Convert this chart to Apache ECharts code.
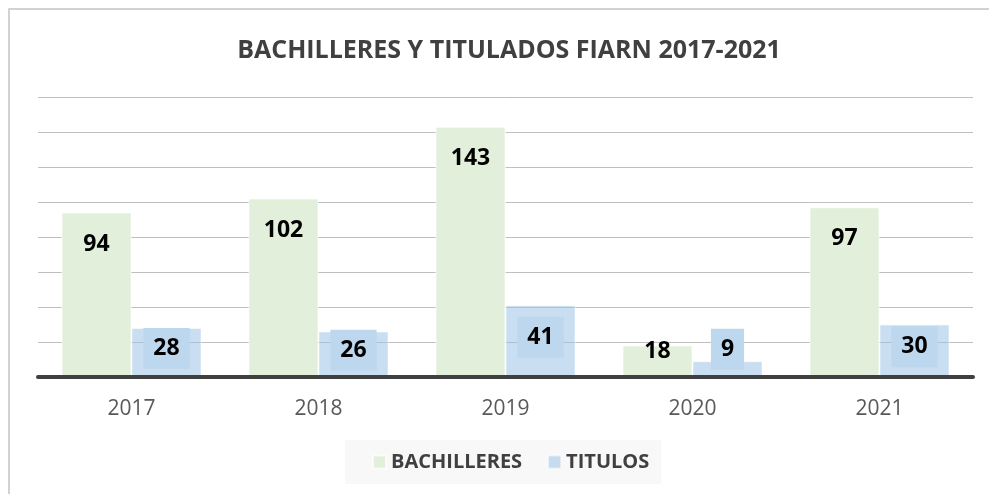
<!DOCTYPE html>
<html>
<head>
<meta charset="utf-8">
<script src="https://cdn.jsdelivr.net/npm/echarts@6/dist/echarts.min.js"></script>
<style>
  html, body { margin: 0; padding: 0; background: #ffffff; }
  #chart { width: 989px; height: 494px; }
</style>
</head>
<body>
<div id="chart"></div>
<script>
const titleText = 'BACHILLERES Y TITULADOS FIARN 2017-2021';
const categories = ['2017', '2018', '2019', '2020', '2021'];
const seriesNames = ['BACHILLERES', 'TITULOS'];
const bachilleres = [94, 102, 143, 18, 97];
const titulos = [28, 26, 41, 9, 30];
const yMin = 0;
const yMax = 160;
const yInterval = 20;

const FONT = '"Open Sans", "Noto Sans", sans-serif';

const chart = echarts.init(document.getElementById('chart'), null, { renderer: 'canvas' });

const greenData = bachilleres.map(function (v) {
  if (v < 30) {
    return { value: v, label: { position: 'inside', offset: [0, -10] } };
  }
  return v;
});
const blueData = titulos.map(function (v) {
  if (v < 15) {
    return { value: v, label: { offset: [0, -20] } };
  }
  return v;
});

const option = {
  backgroundColor: '#ffffff',
  animation: false,
  title: {
    text: titleText,
    left: 504,
    top: 33,
    textAlign: 'center',
    textStyle: { fontFamily: FONT, fontSize: 25, fontWeight: 'bold', color: '#404040' }
  },
  graphic: [{
    type: 'rect',
    silent: true,
    z: -10,
    shape: { x: 9, y: 9, width: 1000, height: 520 },
    style: { fill: 'none', stroke: '#c4c4c4', lineWidth: 1.5 }
  }],
  legend: {
    data: seriesNames,
    left: 345,
    top: 440,
    padding: [12, 12, 12, 27],
    backgroundColor: '#f8f8f8',
    itemWidth: 13,
    itemHeight: 13,
    itemGap: 25,
    icon: 'rect',
    textStyle: { fontFamily: FONT, fontSize: 20, fontWeight: 'bold', color: '#404040' }
  },
  grid: { left: 38, right: 16, top: 97, bottom: 117, containLabel: false },
  xAxis: {
    type: 'category',
    data: categories,
    z: 5,
    axisLine: { show: true, lineStyle: { color: '#404040', width: 4 } },
    axisTick: { show: false },
    axisLabel: { margin: 22, fontFamily: FONT, fontSize: 21, color: '#595959' },
    splitLine: { show: false }
  },
  yAxis: {
    type: 'value',
    min: yMin,
    max: yMax,
    interval: yInterval,
    axisLine: { show: false },
    axisTick: { show: false },
    axisLabel: { show: false },
    splitLine: { show: true, lineStyle: { color: '#bfbfbf', width: 1 } }
  },
  series: [
    {
      name: seriesNames[0],
      type: 'bar',
      data: greenData,
      barWidth: 70,
      barGap: '0%',
      itemStyle: { color: '#e2efda', borderColor: 'rgba(255,255,255,0.7)', borderWidth: 1 },
      label: {
        show: true,
        position: 'insideTop',
        distance: 20,
        fontFamily: FONT,
        fontSize: 23,
        fontWeight: 'bold',
        color: '#000000'
      }
    },
    {
      name: seriesNames[1],
      type: 'bar',
      data: blueData,
      barWidth: 70,
      barGap: '0%',
      itemStyle: { color: 'rgba(157,195,230,0.55)', borderColor: 'rgba(255,255,255,0.5)', borderWidth: 1 },
      label: {
        show: true,
        position: 'inside',
        offset: [0, -4],
        backgroundColor: '#bdd7ee',
        padding: [9, 10],
        fontFamily: FONT,
        fontSize: 23,
        fontWeight: 'bold',
        color: '#000000'
      }
    }
  ]
};

chart.setOption(option);
</script>
</body>
</html>
